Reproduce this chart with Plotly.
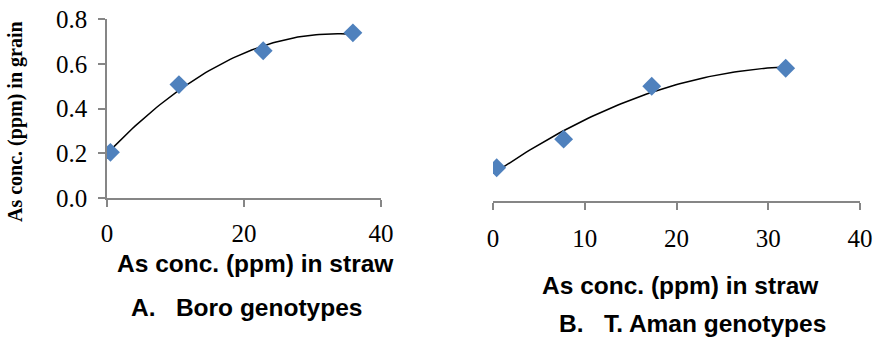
import numpy as np
import plotly.graph_objects as go

# Data
boro_straw = [0.5, 10.5, 22.8, 35.9]
boro_grain = [0.204, 0.507, 0.658, 0.738]

aman_straw = [0.4, 7.7, 17.3, 31.9]
aman_grain = [0.148, 0.275, 0.51, 0.59]

x_ticks_a = [0, 20, 40]
x_ticks_b = [0, 10, 20, 30, 40]
y_ticks = [0.0, 0.2, 0.4, 0.6, 0.8]

W, H = 873, 339
def px(x):
    return x / W
def py(y):
    return 1 - y / H

BLUE = "#4F81BD"
AXIS = "#868686"
SERIF = "Liberation Serif, Times New Roman, serif"
SANS = "Liberation Sans, Arial, sans-serif"

fig = go.Figure()

def trend(xs, ys):
    c = np.polyfit(xs, ys, 2)
    xx = np.linspace(min(xs), max(xs), 80)
    return xx, np.polyval(c, xx)

tx, ty = trend(boro_straw, boro_grain)
fig.add_trace(go.Scatter(x=tx, y=ty, mode="lines", line=dict(color="black", width=1.5),
                         xaxis="x", yaxis="y", showlegend=False, hoverinfo="skip"))
fig.add_trace(go.Scatter(x=boro_straw, y=boro_grain, mode="markers",
                         marker=dict(symbol="diamond", size=14.5, color=BLUE, line=dict(width=0)),
                         xaxis="x", yaxis="y", showlegend=False))

tx2, ty2 = trend(aman_straw, aman_grain)
fig.add_trace(go.Scatter(x=tx2, y=ty2, mode="lines", line=dict(color="black", width=1.5),
                         xaxis="x2", yaxis="y2", showlegend=False, hoverinfo="skip"))
fig.add_trace(go.Scatter(x=aman_straw, y=aman_grain, mode="markers",
                         marker=dict(symbol="diamond", size=14.5, color=BLUE, line=dict(width=0)),
                         xaxis="x2", yaxis="y2", showlegend=False))

tickfont = dict(family=SERIF, size=25, color="black")

fig.update_layout(
    width=W, height=H,
    margin=dict(l=0, r=0, t=0, b=0),
    paper_bgcolor="white", plot_bgcolor="white",
    xaxis=dict(domain=[px(107), px(381)], range=[0, 40], tickvals=x_ticks_a,
               showline=True, linecolor=AXIS, linewidth=1.5, ticks="outside", ticklen=7,
               tickcolor=AXIS, tickwidth=1.5, showgrid=False, zeroline=False, automargin=False,
               tickfont=tickfont, anchor="y", ticklabelstandoff=5),
    yaxis=dict(domain=[py(198), py(19)], range=[0, 0.8], tickvals=y_ticks,
               ticktext=[f"{v:.1f}" for v in y_ticks],
               showline=True, linecolor=AXIS, linewidth=1.5, ticks="outside", ticklen=7,
               tickcolor=AXIS, tickwidth=1.5, showgrid=False, zeroline=False, automargin=False,
               tickfont=tickfont, anchor="x", ticklabelstandoff=6),
    xaxis2=dict(domain=[px(493), px(860)], range=[0, 40], tickvals=x_ticks_b,
                showline=True, linecolor=AXIS, linewidth=1.5, ticks="outside", ticklen=7,
                tickcolor=AXIS, tickwidth=1.5, showgrid=False, zeroline=False, automargin=False,
                tickfont=tickfont, anchor="y2", ticklabelstandoff=7),
    yaxis2=dict(domain=[py(201), py(21)], range=[0, 0.8], visible=False, anchor="x2",
                automargin=False),
)

ann = []
ann.append(dict(text="<b>As conc. (ppm) in grain</b>", x=px(16), y=py(122), xref="paper", yref="paper",
                showarrow=False, textangle=-90, font=dict(family=SERIF, size=20, color="black"),
                xanchor="center", yanchor="middle"))
sans_title = dict(family=SANS, size=24.5, color="black")
ann.append(dict(text="<b>As conc. (ppm) in straw</b>", x=px(255), y=py(263), xref="paper", yref="paper",
                showarrow=False, font=sans_title, xanchor="center", yanchor="middle"))
ann.append(dict(text="<b>A.\u00a0\u00a0 Boro genotypes</b>", x=px(246), y=py(307), xref="paper", yref="paper",
                showarrow=False, font=sans_title, xanchor="center", yanchor="middle"))
ann.append(dict(text="<b>As conc. (ppm) in straw</b>", x=px(680), y=py(285), xref="paper", yref="paper",
                showarrow=False, font=sans_title, xanchor="center", yanchor="middle"))
ann.append(dict(text="<b>B.\u00a0\u00a0 T. Aman genotypes</b>", x=px(692), y=py(323), xref="paper", yref="paper",
                showarrow=False, font=sans_title, xanchor="center", yanchor="middle"))
fig.update_layout(annotations=ann)

fig.write_html("out.html")
